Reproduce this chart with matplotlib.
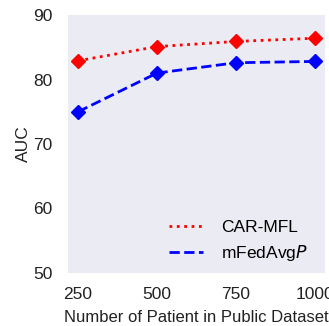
import matplotlib.pyplot as plt

plt.rcParams['font.family'] = ['Liberation Sans', 'DejaVu Sans']

patients = [250, 500, 750, 1000]
car_mfl = [82.9, 85.1, 85.9, 86.4]
mfedavgp = [75.0, 81.0, 82.6, 82.8]

fig = plt.figure(figsize=(3.29, 3.26), dpi=100)
ax = fig.add_axes([68 / 329, (326 - 273) / 326, 257 / 329, 258 / 326])
ax.set_facecolor('#ebebf3')

ax.plot(patients, car_mfl, color='#ff0000', linestyle=':', linewidth=2,
        marker='D', markersize=7, label='CAR-MFL')
ax.plot(patients, mfedavgp, color='#0000ff', linestyle='--', linewidth=2,
        marker='D', markersize=7, label='mFedAvg$\\it{P}$')

ax.set_xlim(218, 1032)
ax.set_ylim(50, 90)
ax.set_xticks(patients)
ax.set_yticks([50, 60, 70, 80, 90])
ax.tick_params(axis='x', length=0, labelsize=12.5, colors='#222222', pad=10)
ax.tick_params(axis='y', length=0, labelsize=12.5, colors='#222222', pad=11)
for s in ax.spines.values():
    s.set_visible(False)

ax.set_xlabel('Number of Patient in Public Dataset', fontsize=12, labelpad=6, color='#222222')
ax.set_ylabel('AUC', fontsize=12.5, color='#222222', labelpad=2)
leg = ax.legend(loc='lower right', bbox_to_anchor=(1 - 7 / 257, 0), frameon=False,
                fontsize=12.5, handlelength=2.0, borderaxespad=0.2,
                handletextpad=1.0, labelspacing=0.45)
for h in leg.legend_handles:
    h.set_marker('')

fig.savefig('out.png', dpi=100)
